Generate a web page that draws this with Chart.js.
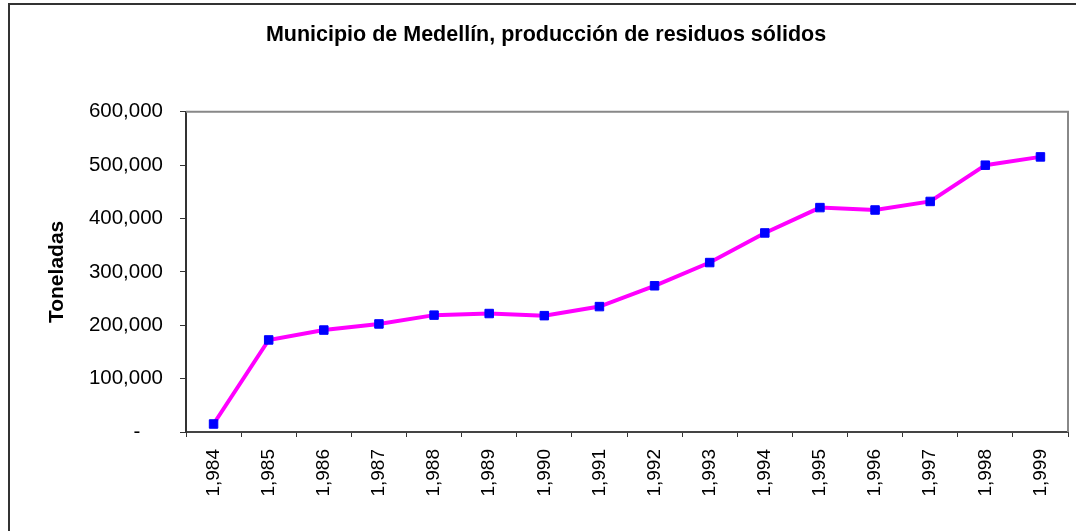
<!DOCTYPE html>
<html>
<head>
<meta charset="utf-8">
<script src="https://cdn.jsdelivr.net/npm/chart.js@4"></script>
<style>
  html, body { margin: 0; padding: 0; background: #fff; overflow: hidden; }
  #wrap { position: relative; width: 1076px; height: 531px; }
  #frame { position: absolute; left: 8px; top: 3px; width: 1200px; height: 700px; border: 2px solid #333; }
  canvas { position: absolute; left: 0; top: 0; }
</style>
</head>
<body>
<div id="wrap">
  <div id="frame"></div>
  <canvas id="chart" width="1076" height="531"></canvas>
</div>
<script>
// data
const years = ["1,984", "1,985", "1,986", "1,987", "1,988", "1,989", "1,990", "1,991",
  "1,992", "1,993", "1,994", "1,995", "1,996", "1,997", "1,998", "1,999"];
const toneladas = [15000, 172500, 191000, 202500, 219000, 222000, 218000, 235000,
  274000, 317500, 373000, 420500, 416000, 432000, 500000, 515500];
const yTicks = [0, 100000, 200000, 300000, 400000, 500000, 600000];

const FONT = "'Liberation Sans', Arial, sans-serif";

// grey top/right border of the plot area
const plotFrame = {
  id: "plotFrame",
  afterDraw(chart) {
    const { ctx, chartArea: a } = chart;
    ctx.save();
    ctx.strokeStyle = "#888";
    ctx.lineWidth = 2;
    ctx.beginPath();
    ctx.moveTo(a.left, a.top);
    ctx.lineTo(a.right, a.top);
    ctx.lineTo(a.right, a.bottom);
    ctx.stroke();
    ctx.restore();
  },
};

const ctx = document.getElementById("chart").getContext("2d");
new Chart(ctx, {
  type: "line",
  data: {
    labels: years,
    datasets: [
      {
        label: "Toneladas",
        data: toneladas,
        borderColor: "#ff00ff",
        borderWidth: 4,
        pointStyle: "rect",
        pointRadius: 6,
        pointBorderWidth: 1,
        pointBackgroundColor: "#0000ff",
        pointBorderColor: "#0000ff",
        tension: 0,
      },
    ],
  },
  options: {
    responsive: false,
    animation: false,
    layout: { padding: { left: 24, right: 8, top: 0, bottom: 0 } },
    plugins: {
      legend: { display: false },
      tooltip: { enabled: false },
      title: {
        display: true,
        text: "Municipio de Medellín, producción de residuos sólidos",
        color: "#000",
        font: { family: FONT, size: 21.5, weight: "bold" },
        padding: { top: 22, bottom: 64 },
      },
    },
    scales: {
      x: {
        offset: true,
        grid: { offset: true, drawOnChartArea: false, drawTicks: true, tickLength: 5, color: "#333" },
        border: { color: "#444", width: 2 },
        ticks: {
          color: "#000",
          font: { family: FONT, size: 19 },
          minRotation: 90,
          maxRotation: 90,
          padding: 12,
          autoSkip: false,
        },
        afterFit(scale) {
          scale.height = 99;
        },
      },
      y: {
        min: 0,
        max: 600000,
        afterBuildTicks(scale) {
          scale.ticks = yTicks.map((v) => ({ value: v }));
        },
        grid: { drawOnChartArea: false, drawTicks: true, tickLength: 6, color: "#333" },
        border: { color: "#333", width: 2 },
        ticks: {
          color: "#000",
          font: { family: FONT, size: 20.5 },
          padding: 17,
          callback: (v) => (v === 0 ? "-    " : v.toLocaleString("en-US")),
        },
        title: {
          display: true,
          text: "Toneladas",
          color: "#000",
          font: { family: FONT, size: 21, weight: "bold" },
          padding: { top: 21, bottom: 0 },
        },
        afterFit(scale) {
          scale.width = 162;
        },
      },
    },
  },
  plugins: [plotFrame],
});
</script>
</body>
</html>
